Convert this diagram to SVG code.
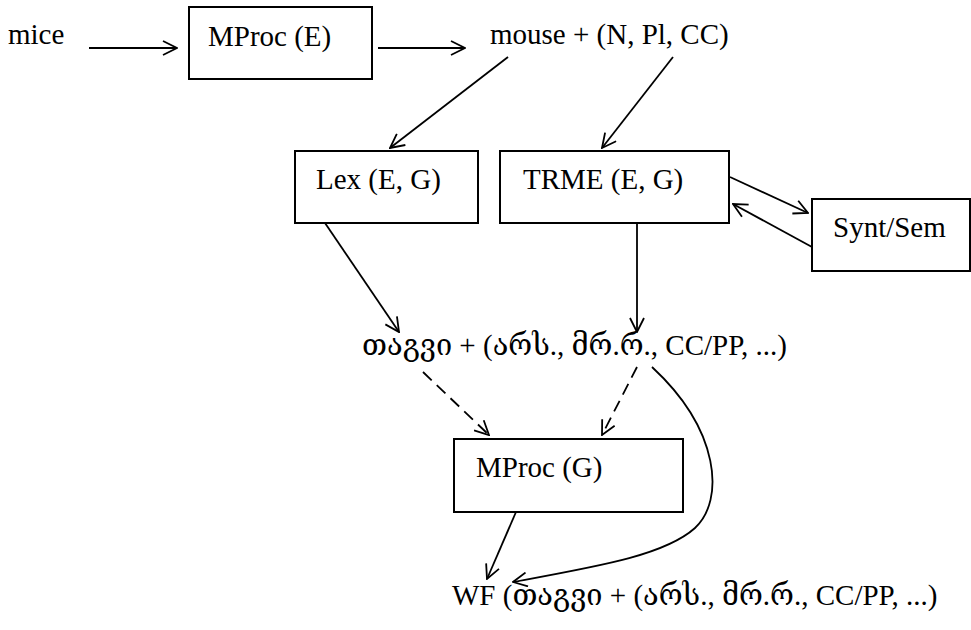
<svg xmlns="http://www.w3.org/2000/svg" width="971" height="630" viewBox="0 0 971 630">
<defs>
<style>
text{font-family:"Liberation Serif","DejaVu Serif","DejaVu Sans",serif;font-size:29px;fill:#000}
.box{fill:#fff;stroke:#000;stroke-width:2}
.edge{fill:none;stroke:#000;stroke-width:1.8}
.dash{stroke-dasharray:12 7}
</style>
<marker id="ah" viewBox="0 0 16 16" refX="15" refY="8" markerWidth="16" markerHeight="16" markerUnits="userSpaceOnUse" orient="auto">
<path d="M1,1 L15,8 L1,15" fill="none" stroke="#000" stroke-width="1.8"/>
</marker>
</defs>
<rect width="971" height="630" fill="#fff"/>
<g id="connectors">
<path class="edge" d="M89,48 L177,48" marker-end="url(#ah)"/>
<path class="edge" d="M378,48 L465,48" marker-end="url(#ah)"/>
<path class="edge" d="M508,57 L390,148" marker-end="url(#ah)"/>
<path class="edge" d="M673,57 L602,148" marker-end="url(#ah)"/>
<path class="edge" d="M730,177 L808,213" marker-end="url(#ah)"/>
<path class="edge" d="M812,247 L733,204" marker-end="url(#ah)"/>
<path class="edge" d="M325,223 L399,332" marker-end="url(#ah)"/>
<path class="edge" d="M637,223 L637,332" marker-end="url(#ah)"/>
<path class="edge dash" d="M423,372 L489,435" marker-end="url(#ah)"/>
<path class="edge dash" d="M637,367 L602,435" marker-end="url(#ah)"/>
<path class="edge" d="M652,367 C720,430 725,500 695,528 C665,555 600,566 513,582" marker-end="url(#ah)"/>
<path class="edge" d="M516,512 L487,579" marker-end="url(#ah)"/>
</g>
<g id="n-mice"><text x="8" y="44">mice</text></g>
<g id="n-mproc-e"><rect class="box" x="189" y="7" width="183" height="72"/><text x="208" y="46">MProc (E)</text></g>
<g id="n-mouse"><text x="490" y="44">mouse + (N, Pl, CC)</text></g>
<g id="n-lex"><rect class="box" x="295" y="151" width="183" height="72"/><text x="316" y="189">Lex (E, G)</text></g>
<g id="n-trme"><rect class="box" x="500" y="151" width="229" height="72"/><text x="523" y="189">TRME (E, G)</text></g>
<g id="n-syntsem"><rect class="box" x="812" y="199" width="158" height="72"/><text x="833" y="237">Synt/Sem</text></g>
<g id="n-tagvi"><text x="362" y="355">თაგვი + (არს., მრ.რ., CC/PP, ...)</text></g>
<g id="n-mproc-g"><rect class="box" x="454" y="439" width="229" height="73"/><text x="476" y="477">MProc (G)</text></g>
<g id="n-wf"><text x="452" y="605">WF (თაგვი + (არს., მრ.რ., CC/PP, ...)</text></g>
</svg>
